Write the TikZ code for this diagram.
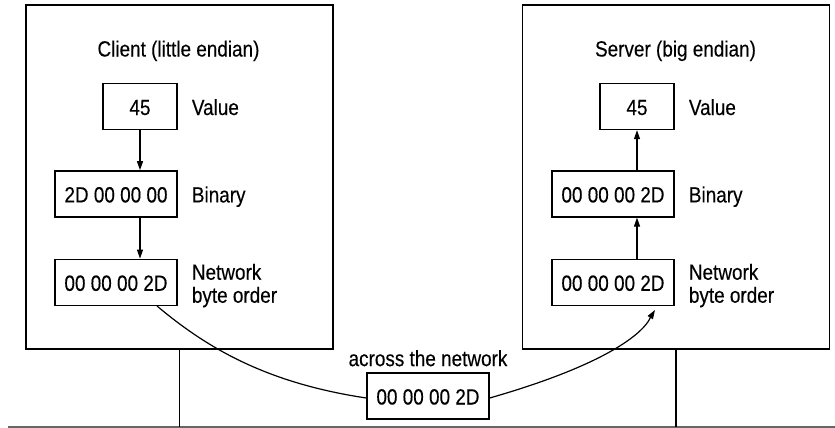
\documentclass[tikz,border=0pt]{standalone}
\usepackage{fontspec}
\setmainfont{Liberation Sans}[FakeStretch=0.86, FakeBold=0.25]
\usetikzlibrary{arrows.meta,positioning}

\begin{document}
\begin{tikzpicture}[x=1pt, y=-1pt,
  txt/.style={inner sep=0pt, font=\fontsize{22}{23}\selectfont, text height=17pt, text depth=0pt},
  note/.style={inner sep=0pt, align=left, font=\fontsize{22}{23}\selectfont},
  frame/.style={draw, line width=1.5pt, minimum width=307pt, minimum height=344pt},
  box/.style={draw, line width=1.4pt, minimum height=46pt, txt},
  wire/.style={line width=1.2pt},
  arr/.style={-{Triangle[length=9pt,width=6pt]}, line width=1.2pt}]
\useasboundingbox (0,0) rectangle (835,428);
\node[frame] (client) at (179.5,177) {};
\node[frame] (server) at (676,177) {};
\node[txt] (ctitle) at (178.5,48) {Client (little endian)};
\node[txt] (stitle) at (675.5,48) {Server (big endian)};
% client side
\node[box, minimum width=74pt] (cval) at (140,106.5) {45};
\node[box, minimum width=122pt, below=40pt of cval.south east, anchor=north east] (cbin) {2D 00 00 00};
\node[box, minimum width=122pt, below=41pt of cbin] (cnet) {00 00 00 2D};
\node[txt, right=14pt of cval] (cvallbl) {Value};
\node[txt, right=14pt of cbin] (cbinlbl) {Binary};
\node[note, right=14pt of cnet.north east, anchor=north west, yshift=-5pt] (cnetlbl) {Network\\byte order};
% server side
\node[box, minimum width=74pt] (sval) at (637,106.5) {45};
\node[box, minimum width=122pt, below=40pt of sval.south east, anchor=north east] (sbin) {00 00 00 2D};
\node[box, minimum width=122pt, below=41pt of sbin] (snet) {00 00 00 2D};
\node[txt, right=14pt of sval] (svallbl) {Value};
\node[txt, right=14pt of sbin] (sbinlbl) {Binary};
\node[note, right=14pt of snet.north east, anchor=north west, yshift=-5pt] (snetlbl) {Network\\byte order};
% network
\node[box, minimum width=122pt] (packet) at (428,396) {00 00 00 2D};
\node[txt, above=6pt of packet] (across) {across the network};
\coordinate (baseL) at (8,427);
\coordinate (baseR) at (835,427);
\draw[line width=1.3pt, black!60] (baseL) -- (baseR);
\draw[wire] (client.south) -- (client.south |- baseL);
\draw[wire] (server.south) -- (server.south |- baseL);
\draw[arr] (cval) -- (cval |- cbin.north);
\draw[arr] (cbin.south -| cval) -- (cval |- cnet.north);
\draw[arr] (sbin.north -| sval) -- (sval);
\draw[arr] (snet.north -| sval) -- (sval |- sbin.south);
\draw[wire] ([xshift=41pt]cnet.south) .. controls +(50,42) and +(-100,-15) .. ([yshift=-2pt]packet.west);
\draw[arr] ([yshift=-2pt]packet.east) .. controls +(150,-43) and +(-5,8) .. ([xshift=42pt,yshift=-4pt]snet.south);
\end{tikzpicture}
\end{document}
